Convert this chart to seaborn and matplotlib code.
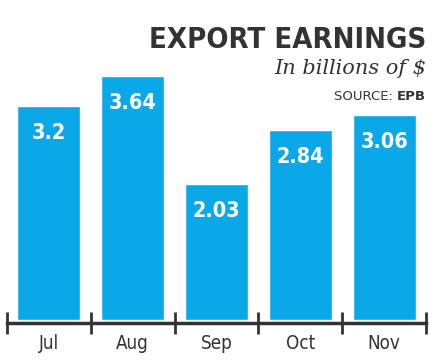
import matplotlib
matplotlib.use("Agg")
import matplotlib.pyplot as plt
import seaborn as sns

# data
months = ["Jul", "Aug", "Sep", "Oct", "Nov"]
earnings = [3.2, 3.64, 2.03, 2.84, 3.06]

bar_color = "#0aa8e6"
dark = "#333333"

sns.set_style("white")
plt.rcParams["font.family"] = ["DejaVu Sans"]

fig = plt.figure(figsize=(4.4, 3.61), dpi=100)
ax = fig.add_axes([7 / 440, 38 / 361, 419 / 440, 263 / 361])

sns.barplot(x=months, y=earnings, color=bar_color, saturation=1, width=0.75, ax=ax)

# value labels inside the bars
for i, v in enumerate(earnings):
    ax.annotate(str(v), (i, v), xytext=(0, -12), textcoords="offset points",
                ha="center", va="top", color="white", fontsize=15.5,
                fontweight="bold", fontstretch="condensed")

ax.set_xlim(-0.5, 4.5)
ax.set_ylim(-0.045, 3.886)

# boundary ticks on the axis, labels centred under bars
ax.set_xticks([-0.5, 0.5, 1.5, 2.5, 3.5, 4.5])
ax.set_xticklabels([])
ax.set_xticks(range(len(months)), minor=True)
ax.set_xticklabels(months, minor=True, fontsize=13.5, color=dark, fontstretch="condensed")
ax.tick_params(axis="x", which="major", bottom=True, direction="inout", length=16,
               width=2, color=dark)
ax.tick_params(axis="x", which="minor", bottom=True, length=0, pad=8)
ax.set_yticks([])
ax.set_xlabel("")
ax.set_ylabel("")
for s in ["top", "left", "right"]:
    ax.spines[s].set_visible(False)
ax.spines["bottom"].set_color(dark)
ax.spines["bottom"].set_linewidth(2.5)

# titles
fig.text(426 / 440, 1 - 40 / 361, "EXPORT EARNINGS", ha="right", va="center",
         fontsize=21, fontweight="bold", color=dark, fontstretch="condensed")
fig.text(426 / 440, 1 - 69 / 361, "In billions of $", ha="right", va="center",
         fontsize=15, style="italic", color=dark, family=["DejaVu Serif"])
epb = fig.text(426 / 440, 1 - 97 / 361, "EPB", ha="right", va="center",
               fontsize=9.5, fontweight="bold", color=dark)
ax.annotate("SOURCE: ", xy=(0, 0.5), xycoords=epb, ha="right", va="center",
            fontsize=9.5, color=dark, annotation_clip=False)

fig.savefig("out.png", dpi=100)
